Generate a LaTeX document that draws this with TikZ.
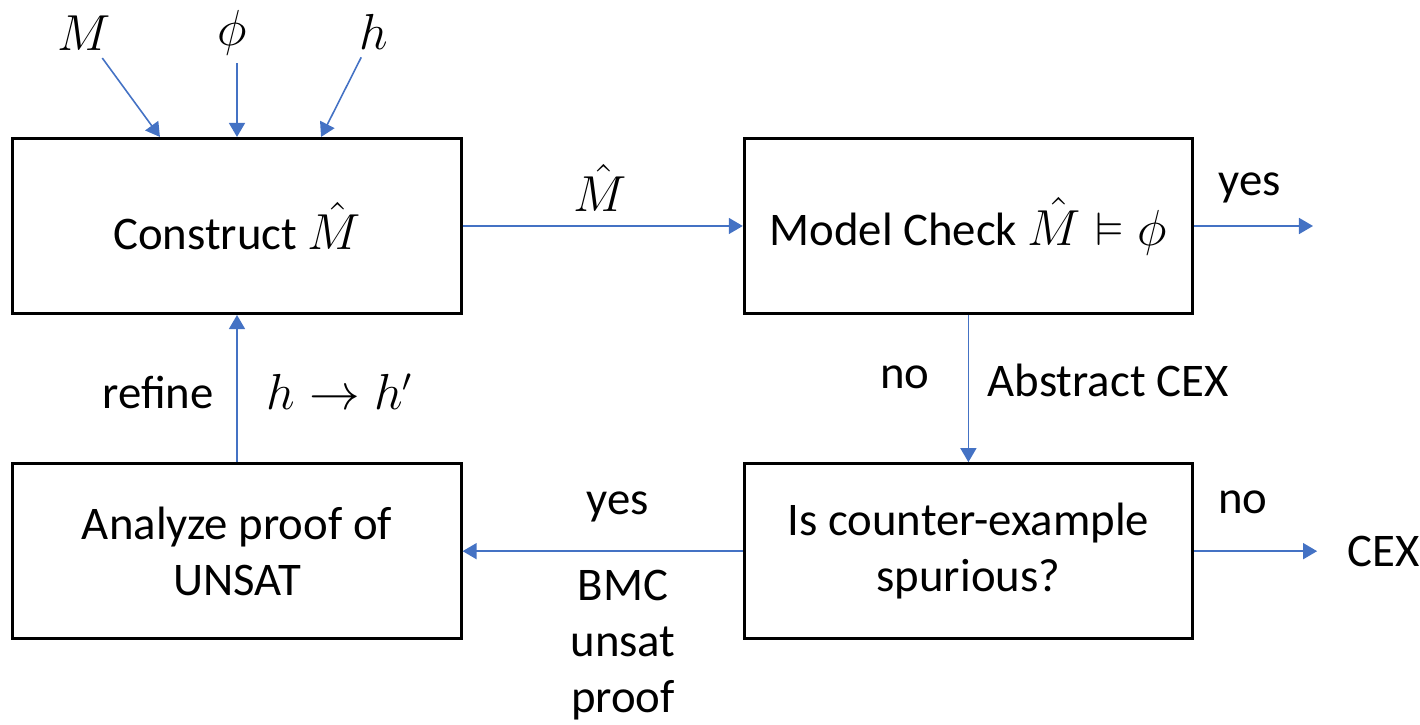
\documentclass[tikz,border=0pt]{standalone}
\usepackage{amssymb}
\usepackage{fontspec}
\setmainfont{Carlito}
\usetikzlibrary{arrows.meta, positioning}
\definecolor{flowblue}{HTML}{4472C4}
\tikzset{
  % blocks
  block/.style = {draw, line width=0.85pt, align=center, inner sep=0pt,
                  minimum width=4.48cm, minimum height=1.75cm},
  lbl/.style   = {align=center, inner sep=2pt},
  % arrows
  flow/.style  = {-{Triangle[length=1.4mm, width=1.6mm]}, color=flowblue, line width=0.45pt},
}

\begin{document}
\begin{tikzpicture}[x=0.01cm, y={(0cm,-0.01cm)},
  every node/.style={font=\fontsize{13.3pt}{16pt}\selectfont}]
\useasboundingbox (0,0) rectangle (1420,725);

% ---------- Blocks ----------
\node[block] (construct) at (237,226) {Construct $\hat{M}$};
\node[block, right=2.8cm of construct] (check) {Model Check $\hat{M} \vDash \phi$};
\node[block, below=1.47cm of check] (spur) {Is counter-example\\spurious?};
\node[block, below=1.47cm of construct] (analyze) {Analyze proof of\\UNSAT};

% ---------- Inputs ----------
\node[lbl] (inM)   at (84,33)  {$M$};
\node[lbl] (inphi) at (232,33) {$\phi$};
\node[lbl] (inh)   at (374,32) {$h$};

\draw[flow] (inM)   -- ([xshift=-0.77cm]construct.north);
\draw[flow] (inphi.south -| construct.north) -- (construct.north);
\draw[flow] (inh)   -- ([xshift=0.84cm]construct.north);

% ---------- Outputs ----------
\coordinate (outyes) at (1313,226);
\node[lbl, inner sep=0pt, right=1.53cm of spur] (cex) {CEX};

% ---------- Flow ----------
\draw[flow] (construct) -- (check);
\draw[flow] (check) -- (outyes);
\draw[flow] (check) -- (spur);
\draw[flow] (spur) -- (analyze);
\draw[flow, shorten >=0.3cm] (spur) -- (cex.west);
\draw[flow] (analyze) -- (construct);

% ---------- Labels ----------
\node[lbl] (lhat)    at (600,188)  {$\hat{M}$};
\node[lbl] (lyes)    at (1250,188) {yes};
\node[lbl] (lno)     at (905,377)  {no};
\node[lbl] (labscex) at (1108,380) {Abstract CEX};
\node[lbl] (lyes2)   at (618,507)  {yes};
\node[lbl] (lbmc)    at (623,645)  {BMC\\unsat\\proof};
\node[lbl] (lno2)    at (1243,502) {no};
\node[lbl] (lrefine) at (158,392)  {refine};
\node[lbl] (lhh)     at (340,392)  {$h \rightarrow h'$};

\end{tikzpicture}
\end{document}
